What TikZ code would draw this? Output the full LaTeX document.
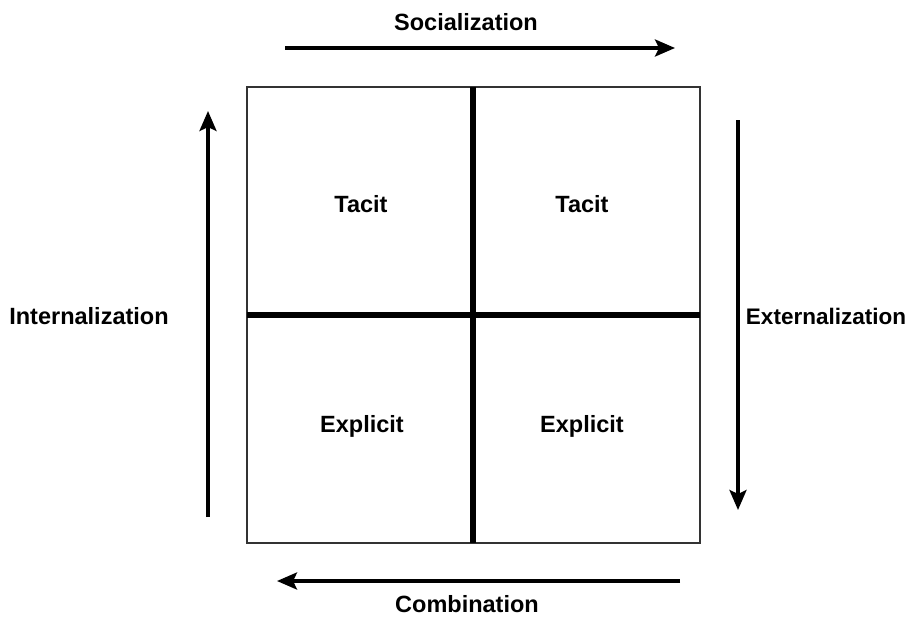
\documentclass[tikz,border=0pt]{standalone}
\usepackage{fontspec}
\setmainfont{Liberation Sans}
\usetikzlibrary{arrows.meta}
\begin{document}
\begin{tikzpicture}[x=1pt,y=-1pt,
  lbl/.style={font=\fontsize{23.5}{28}\selectfont\bfseries, inner sep=0pt, anchor=center},
  frameline/.style={draw=black!80, line width=1.5pt},
  divider/.style={draw=black, line width=5.5pt},
  flow/.style={draw=black, line width=3.6pt, -{Stealth[length=20pt,width=17pt,inset=4pt]}}]
\useasboundingbox[fill=white] (0,0) rectangle (913,616);
% frame corners and divider ends
\coordinate (tlc) at (247,87);
\coordinate (brc) at (700,543);
\coordinate (vt) at (473,87);
\coordinate (vb) at (473,543);
\coordinate (hl) at (247,315);
\coordinate (hr) at (700,315);
\draw[frameline] (tlc) rectangle (brc);
\draw[divider] (hl) -- (hr);
\draw[divider] (vt) -- (vb);
% cell labels
\node[lbl] (c1) at (361,204) {Tacit};
\node[lbl] (c2) at (582,204) {Tacit};
\node[lbl] (c3) at (362,426) {Explicit};
\node[lbl] (c4) at (582,426) {Explicit};
% arrows
\coordinate (s0) at (285,48);  \coordinate (s1) at (675,48);
\coordinate (e0) at (738,120); \coordinate (e1) at (738,510);
\coordinate (m0) at (680,581); \coordinate (m1) at (277,581);
\coordinate (i0) at (208,517); \coordinate (i1) at (208,111);
\draw[flow] (s0) -- (s1);
\draw[flow] (e0) -- (e1);
\draw[flow] (m0) -- (m1);
\draw[flow] (i0) -- (i1);
% arrow labels
\node[lbl] (soc) at (466,22) {Socialization};
\node[lbl] (ext) at (826,316) {\fontsize{22.5}{27}\selectfont Externalization};
\node[lbl] (com) at (467,604) {Combination};
\node[lbl] (int) at (89,316) {Internalization};
\end{tikzpicture}
\end{document}
